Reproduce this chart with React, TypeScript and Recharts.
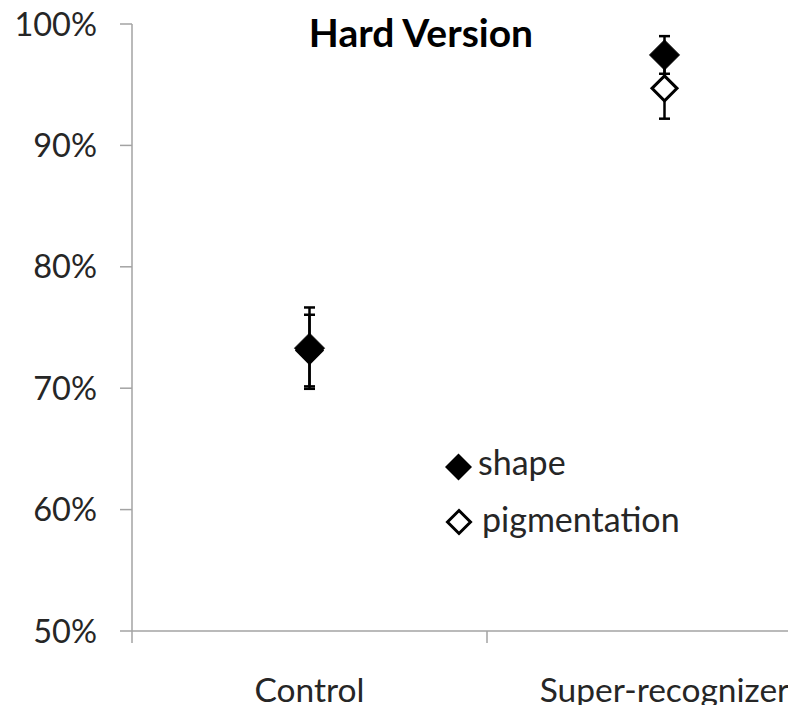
import React from 'react';
import { ScatterChart, Scatter, XAxis, YAxis, ErrorBar } from 'recharts';

const groups = ['Control', 'Super-recognizer'];
const groupPos = [0.5, 1.5];
const shapeMean = [73.3, 97.45];
const shapeErr = [3.35, 1.55];
const pigMean = [73.1, 94.7];
const pigErr = [2.95, 2.5];
const yTicks = [50, 60, 70, 80, 90, 100];
const xTicks = [0, 0.5, 1, 1.5, 2];
const seriesNames = ['shape', 'pigmentation'];

const shapeData = groups.map((g, i) => ({ group: g, x: groupPos[i], y: shapeMean[i], err: shapeErr[i] }));
const pigData = groups.map((g, i) => ({ group: g, x: groupPos[i], y: pigMean[i], err: pigErr[i] }));

const FONT = 'Lato, "Open Sans", sans-serif';
const AXIS = '#a3a3a3';
const TEXT = '#262626';

const diamond = (cx: number, cy: number, r: number) =>
  `${cx},${cy - r} ${cx + r},${cy} ${cx},${cy + r} ${cx - r},${cy}`;

const FilledDiamond = (props: any) => (
  <polygon points={diamond(props.cx, props.cy, 15)} fill="#000" stroke="#000" strokeWidth={1} />
);

const OpenDiamond = (props: any) => (
  <polygon points={diamond(props.cx, props.cy, 12.5)} fill="#fff" stroke="#000" strokeWidth={3} />
);

const XTick = ({ x, y, payload }: any) => {
  const v = payload.value;
  if (Number.isInteger(v)) {
    return <line x1={x} x2={x} y1={y} y2={y + 12} stroke={AXIS} strokeWidth={1.5} />;
  }
  return (
    <text x={x} y={y + 71} textAnchor="middle" fill={TEXT} fontSize={33.5} fontFamily={FONT}>
      {groups[Math.floor(v)]}
    </text>
  );
};

export default function App() {
  return (
    <div style={{ position: 'relative', margin: -8, width: 796, height: 713, overflow: 'hidden', background: '#fff' }}>
      <ScatterChart width={842} height={713} margin={{ top: 24, right: 0, bottom: 0, left: 0 }}>
        <XAxis
          type="number"
          dataKey="x"
          domain={[0, 2]}
          ticks={xTicks}
          interval={0}
          height={82}
          stroke={AXIS}
          strokeWidth={1.5}
          tickLine={false}
          tickSize={0}
          tickMargin={0}
          tick={<XTick />}
        />
        <YAxis
          type="number"
          dataKey="y"
          domain={[50, 100]}
          ticks={yTicks}
          interval={0}
          width={132}
          stroke={AXIS}
          strokeWidth={1.5}
          tickSize={12}
          tickMargin={23}
          tickFormatter={(v: number) => `${v}%`}
          tick={{ fill: TEXT, fontSize: 32.5, fontFamily: FONT }}
        />
        <Scatter name="pigmentation" data={pigData} shape={<OpenDiamond />} isAnimationActive={false}>
          <ErrorBar dataKey="err" direction="y" width={5.5} stroke="#000" strokeWidth={2.5} />
        </Scatter>
        <Scatter name="shape" data={shapeData} shape={<FilledDiamond />} isAnimationActive={false}>
          <ErrorBar dataKey="err" direction="y" width={5.5} stroke="#000" strokeWidth={2.5} />
        </Scatter>
        <text x={421} y={47} textAnchor="middle" fontSize={39} fontWeight="bold" fontFamily={FONT} fill="#000">
          Hard Version
        </text>
        {/* legend */}
        <g>
          <polygon points={diamond(458.5, 467, 13.5)} fill="#000" />
          <text x={478} y={475} fontSize={34} fontFamily={FONT} fill={TEXT}>{seriesNames[0]}</text>
          <polygon points={diamond(459, 522, 11.5)} fill="#fff" stroke="#000" strokeWidth={3} />
          <text x={482} y={532} fontSize={34} fontFamily={FONT} fill={TEXT}>{seriesNames[1]}</text>
        </g>
      </ScatterChart>
    </div>
  );
}
